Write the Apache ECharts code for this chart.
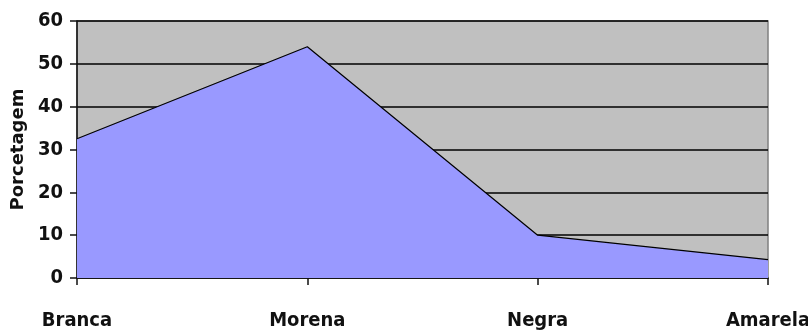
<!DOCTYPE html>
<html>
<head>
<meta charset="utf-8">
<script src="https://cdn.jsdelivr.net/npm/echarts@6/dist/echarts.min.js"></script>
<style>
  html, body { margin: 0; padding: 0; background: #fff; }
  #chart { width: 808px; height: 333px; }
</style>
</head>
<body>
<div id="chart"></div>
<script>
var categories = ['Branca', 'Morena', 'Negra', 'Amarela'];
var values = [32.5, 54, 10, 4.3];
var yTicks = [0, 10, 20, 30, 40, 50, 60];

var myChart = echarts.init(document.getElementById('chart'));
var labelFont = '"DejaVu Sans Condensed", "DejaVu Sans", Arial, sans-serif';

var option = {
    animation: false,
    grid: {
        left: 77, right: 40, top: 21, bottom: 55,
        outerBoundsMode: 'none',
        containLabel: false,
        show: true,
        backgroundColor: '#c0c0c0',
        borderColor: '#808080',
        borderWidth: 1.5
    },
    xAxis: {
        type: 'category',
        data: categories,
        boundaryGap: false,
        axisLine: { lineStyle: { color: '#111', width: 1.5 } },
        axisTick: { show: true, length: 7, alignWithLabel: true, lineStyle: { color: '#111', width: 1.5 } },
        axisLabel: {
            margin: 33,
            color: '#111',
            fontSize: 20,
            fontWeight: 'bold',
            fontFamily: labelFont,
            interval: 0
        },
        splitLine: { show: false }
    },
    yAxis: {
        type: 'value',
        min: yTicks[0],
        max: yTicks[yTicks.length - 1],
        interval: 10,
        name: 'Porcetagem',
        nameLocation: 'middle',
        nameGap: 48,
        nameTextStyle: {
            color: '#111',
            fontSize: 18,
            fontWeight: 'bold',
            fontFamily: '"DejaVu Sans", Arial, sans-serif'
        },
        axisLine: { show: true, lineStyle: { color: '#111', width: 1.5 } },
        axisTick: { show: true, length: 7, lineStyle: { color: '#111', width: 1.5 } },
        axisLabel: {
            margin: 14,
            color: '#111',
            fontSize: 20,
            fontWeight: 'bold',
            fontFamily: labelFont
        },
        splitLine: { show: true, lineStyle: { color: '#000', width: 1.5 } }
    },
    series: [
        {
            type: 'line',
            data: values,
            symbol: 'none',
            lineStyle: { color: '#000', width: 1.2 },
            areaStyle: { color: '#9999ff', opacity: 1 }
        }
    ]
};

myChart.setOption(option);
</script>
</body>
</html>
